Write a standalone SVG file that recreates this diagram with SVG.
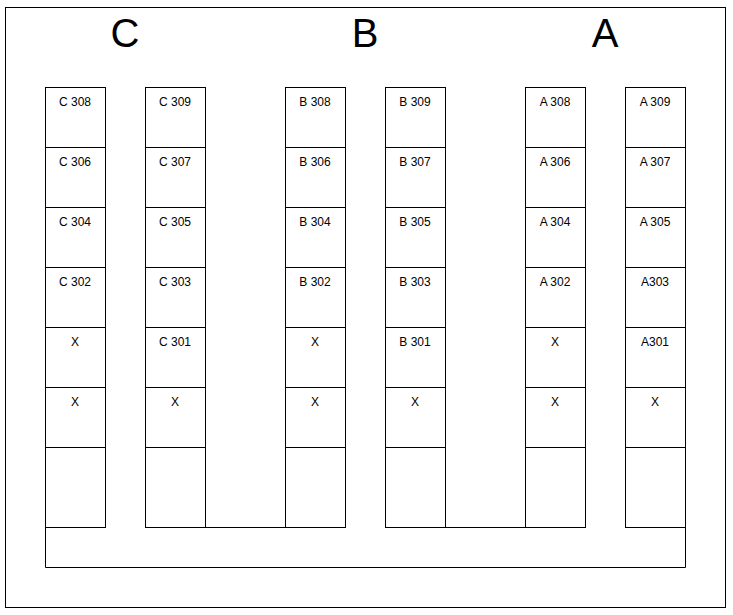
<svg xmlns="http://www.w3.org/2000/svg" width="733" height="615" viewBox="0 0 733 615">
<style>
.b{fill:#fff;stroke:#000;stroke-width:1}
.l{fill:none;stroke:#000;stroke-width:1}
.t{font-family:"Liberation Sans",Arial,sans-serif;font-size:12px;text-anchor:middle;fill:#000}
.h{font-family:"Liberation Sans",Arial,sans-serif;font-size:40px;text-anchor:middle;fill:#000}
</style>
<rect x="0" y="0" width="733" height="615" fill="#fff"/>
<rect class="b" x="5.5" y="7.5" width="720" height="600"/>
<text class="h" x="125" y="46.5">C</text>
<text class="h" x="365" y="46.5">B</text>
<text class="h" x="605" y="46.5">A</text>
<g id="corridor">
<path class="l" d="M45.5 527.5 V567.5 H685.5 V527.5 M205.5 527.5 H285.5 M445.5 527.5 H525.5"/>
</g>
<g id="colC1">
<rect class="b" x="45.5" y="87.5" width="60" height="60"/><text class="t" x="75" y="106">C 308</text>
<rect class="b" x="45.5" y="147.5" width="60" height="60"/><text class="t" x="75" y="166">C 306</text>
<rect class="b" x="45.5" y="207.5" width="60" height="60"/><text class="t" x="75" y="226">C 304</text>
<rect class="b" x="45.5" y="267.5" width="60" height="60"/><text class="t" x="75" y="286">C 302</text>
<rect class="b" x="45.5" y="327.5" width="60" height="60"/><text class="t" x="75" y="346">X</text>
<rect class="b" x="45.5" y="387.5" width="60" height="60"/><text class="t" x="75" y="406">X</text>
<rect class="b" x="45.5" y="447.5" width="60" height="80"/>
</g>
<g id="colC2">
<rect class="b" x="145.5" y="87.5" width="60" height="60"/><text class="t" x="175" y="106">C 309</text>
<rect class="b" x="145.5" y="147.5" width="60" height="60"/><text class="t" x="175" y="166">C 307</text>
<rect class="b" x="145.5" y="207.5" width="60" height="60"/><text class="t" x="175" y="226">C 305</text>
<rect class="b" x="145.5" y="267.5" width="60" height="60"/><text class="t" x="175" y="286">C 303</text>
<rect class="b" x="145.5" y="327.5" width="60" height="60"/><text class="t" x="175" y="346">C 301</text>
<rect class="b" x="145.5" y="387.5" width="60" height="60"/><text class="t" x="175" y="406">X</text>
<rect class="b" x="145.5" y="447.5" width="60" height="80"/>
</g>
<g id="colB1">
<rect class="b" x="285.5" y="87.5" width="60" height="60"/><text class="t" x="315" y="106">B 308</text>
<rect class="b" x="285.5" y="147.5" width="60" height="60"/><text class="t" x="315" y="166">B 306</text>
<rect class="b" x="285.5" y="207.5" width="60" height="60"/><text class="t" x="315" y="226">B 304</text>
<rect class="b" x="285.5" y="267.5" width="60" height="60"/><text class="t" x="315" y="286">B 302</text>
<rect class="b" x="285.5" y="327.5" width="60" height="60"/><text class="t" x="315" y="346">X</text>
<rect class="b" x="285.5" y="387.5" width="60" height="60"/><text class="t" x="315" y="406">X</text>
<rect class="b" x="285.5" y="447.5" width="60" height="80"/>
</g>
<g id="colB2">
<rect class="b" x="385.5" y="87.5" width="60" height="60"/><text class="t" x="415" y="106">B 309</text>
<rect class="b" x="385.5" y="147.5" width="60" height="60"/><text class="t" x="415" y="166">B 307</text>
<rect class="b" x="385.5" y="207.5" width="60" height="60"/><text class="t" x="415" y="226">B 305</text>
<rect class="b" x="385.5" y="267.5" width="60" height="60"/><text class="t" x="415" y="286">B 303</text>
<rect class="b" x="385.5" y="327.5" width="60" height="60"/><text class="t" x="415" y="346">B 301</text>
<rect class="b" x="385.5" y="387.5" width="60" height="60"/><text class="t" x="415" y="406">X</text>
<rect class="b" x="385.5" y="447.5" width="60" height="80"/>
</g>
<g id="colA1">
<rect class="b" x="525.5" y="87.5" width="60" height="60"/><text class="t" x="555" y="106">A 308</text>
<rect class="b" x="525.5" y="147.5" width="60" height="60"/><text class="t" x="555" y="166">A 306</text>
<rect class="b" x="525.5" y="207.5" width="60" height="60"/><text class="t" x="555" y="226">A 304</text>
<rect class="b" x="525.5" y="267.5" width="60" height="60"/><text class="t" x="555" y="286">A 302</text>
<rect class="b" x="525.5" y="327.5" width="60" height="60"/><text class="t" x="555" y="346">X</text>
<rect class="b" x="525.5" y="387.5" width="60" height="60"/><text class="t" x="555" y="406">X</text>
<rect class="b" x="525.5" y="447.5" width="60" height="80"/>
</g>
<g id="colA2">
<rect class="b" x="625.5" y="87.5" width="60" height="60"/><text class="t" x="655" y="106">A 309</text>
<rect class="b" x="625.5" y="147.5" width="60" height="60"/><text class="t" x="655" y="166">A 307</text>
<rect class="b" x="625.5" y="207.5" width="60" height="60"/><text class="t" x="655" y="226">A 305</text>
<rect class="b" x="625.5" y="267.5" width="60" height="60"/><text class="t" x="655" y="286">A303</text>
<rect class="b" x="625.5" y="327.5" width="60" height="60"/><text class="t" x="655" y="346">A301</text>
<rect class="b" x="625.5" y="387.5" width="60" height="60"/><text class="t" x="655" y="406">X</text>
<rect class="b" x="625.5" y="447.5" width="60" height="80"/>
</g>
</svg>
